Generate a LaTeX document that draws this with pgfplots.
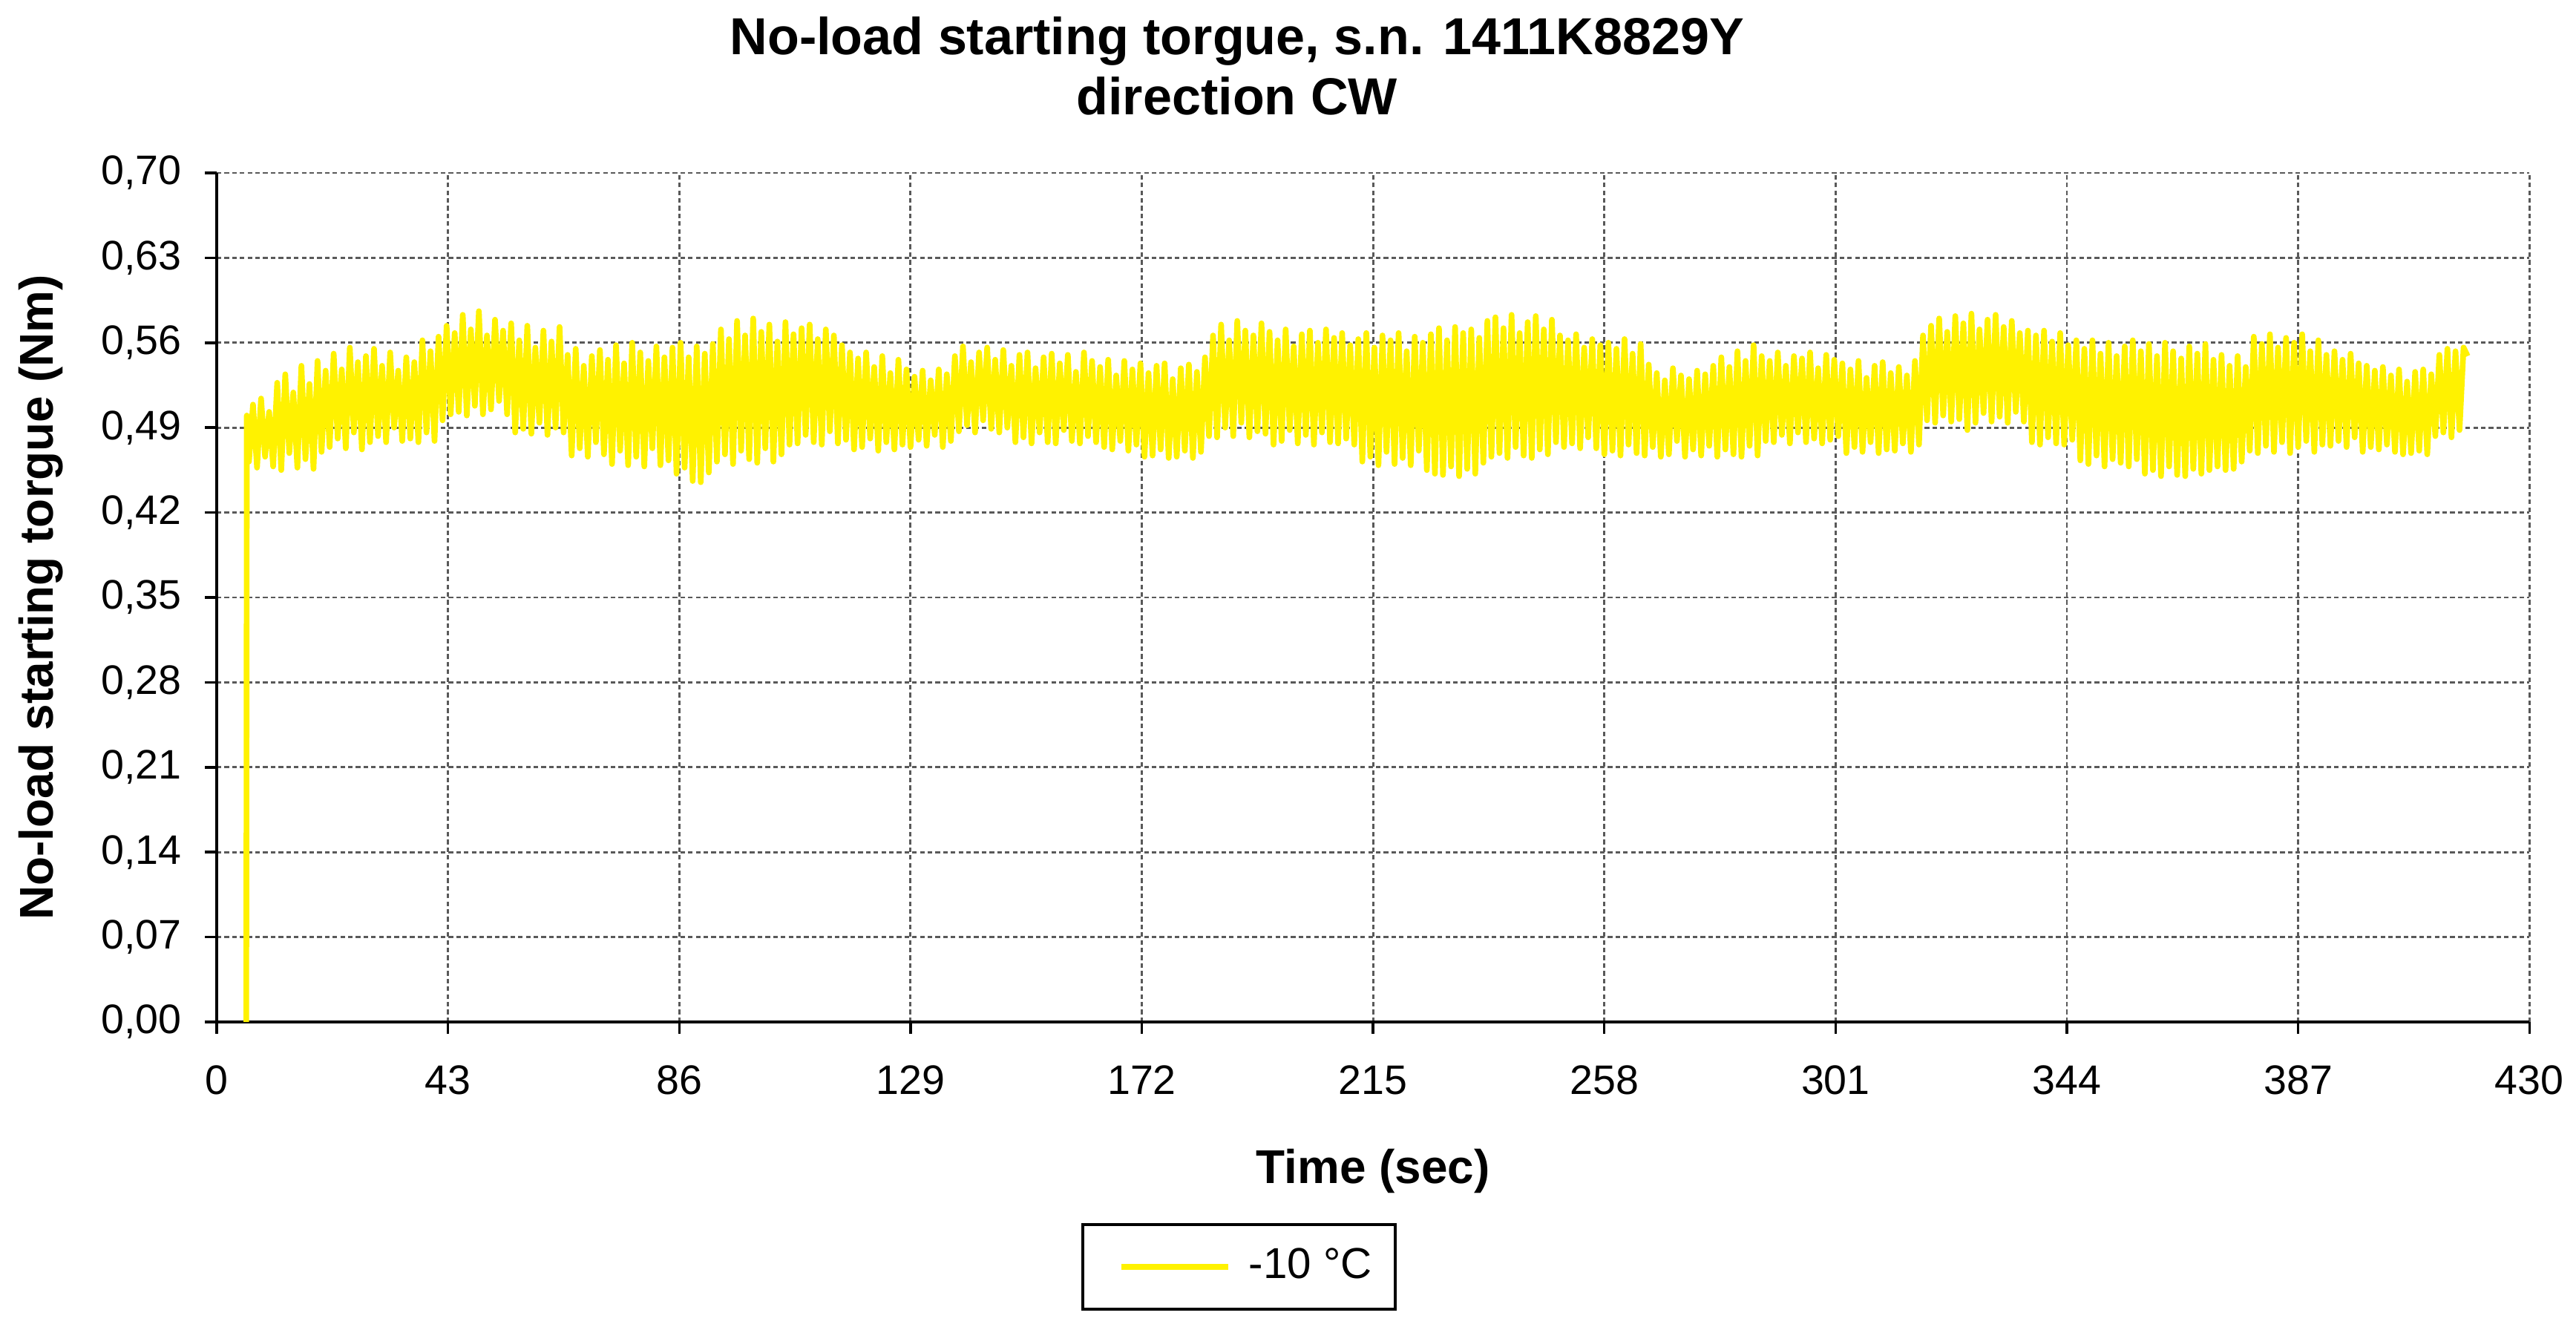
\documentclass[border=0pt]{standalone}
\usepackage{fontspec}
\setmainfont{Liberation Sans}
\usepackage{pgfplots}
\pgfplotsset{compat=1.18}
\begin{document}
\begin{tikzpicture}
\useasboundingbox (0,0) rectangle (500pt,257.42pt);
\begin{axis}[
  at={(42.06pt,59.06pt)}, anchor=south west,
  scale only axis, width=448.9pt, height=164.8pt,
  xmin=0, xmax=430, ymin=0, ymax=0.70,
  axis x line*=bottom, axis y line*=left,
  axis line style={-, black, line width=0.6pt},
  xtick={0,43,86,129,172,215,258,301,344,387,430},
  ytick={0,0.07,0.14,0.21,0.28,0.35,0.42,0.49,0.56,0.63,0.70},
  scaled y ticks=false,
  tick align=outside, major tick length=2.3pt,
  tick style={black, line width=0.5pt},
  grid=major,
  major grid style={black!65, line width=0.4pt, dash pattern=on 0.9pt off 0.6pt},
  /pgf/number format/assume math mode=true,
  ticklabel style={font=\fontsize{8}{9.6}\selectfont},
  yticklabel style={/pgf/number format/fixed, /pgf/number format/fixed zerofill, /pgf/number format/precision=2, /pgf/number format/use comma, xshift=-1pt},
  xticklabel style={yshift=-2.6pt},
  xlabel={Time (sec)},
  xlabel style={font=\fontsize{9.2}{11}\selectfont\bfseries, at={(axis description cs:0.5,-0.19)}, anchor=base},
  ylabel={No-load starting torgue (Nm)},
  ylabel style={font=\fontsize{9.2}{11}\selectfont\bfseries, at={(axis description cs:-0.076,0.5)}, anchor=center},
  legend style={at={(axis description cs:0.442,-0.2885)}, anchor=center, draw=black, line width=0.6pt, font=\fontsize{8.4}{10}\selectfont, inner xsep=2.5pt, inner ysep=2.5pt},
  legend image code/.code={\path (0pt,0pt); \draw[#1] (4.5pt,0pt) -- (25.2pt,0pt);},
]
\addplot[color=yellow, line width=1.1pt, line join=round] coordinates {
(5.5,0)(5.6,0.50)
(6,.462)(6.75,.509)(7.5,.457)(8.25,.514)
(9,.466)(9.75,.503)(10.5,.458)(11.25,.527)
(12,.455)(12.75,.534)(13.5,.469)(14.25,.519)
(15,.457)(15.75,.541)(16.5,.464)(17.25,.526)
(18,.456)(18.75,.545)(19.5,.470)(20.25,.537)
(21,.474)(21.75,.551)(22.5,.481)(23.25,.538)
(24,.473)(24.75,.556)(25.5,.486)(26.25,.544)
(27,.472)(27.75,.549)(28.5,.478)(29.25,.555)
(30,.483)(30.75,.541)(31.5,.478)(32.25,.552)
(33,.490)(33.75,.537)(34.5,.479)(35.25,.548)
(36,.481)(36.75,.544)(37.5,.478)(38.25,.562)
(39,.486)(39.75,.553)(40.5,.479)(41.25,.565)
(42,.496)(42.75,.574)(43.5,.501)(44.25,.568)
(45,.503)(45.75,.583)(46.5,.500)(47.25,.571)
(48,.508)(48.75,.586)(49.5,.501)(50.25,.566)
(51,.505)(51.75,.579)(52.5,.512)(53.25,.570)
(54,.501)(54.75,.576)(55.5,.486)(56.25,.562)
(57,.489)(57.75,.574)(58.5,.485)(59.25,.556)
(60,.494)(60.75,.570)(61.5,.484)(62.25,.561)
(63,.490)(63.75,.573)(64.5,.486)(65.25,.550)
(66,.467)(66.75,.555)(67.5,.473)(68.25,.541)
(69,.466)(69.75,.549)(70.5,.478)(71.25,.554)
(72,.468)(72.75,.546)(73.5,.460)(74.25,.558)
(75,.471)(75.75,.543)(76.5,.459)(77.25,.560)
(78,.466)(78.75,.552)(79.5,.458)(80.25,.545)
(81,.473)(81.75,.557)(82.5,.459)(83.25,.548)
(84,.463)(84.75,.556)(85.5,.452)(86.25,.560)
(87,.457)(87.75,.548)(88.5,.446)(89.25,.557)
(90,.445)(90.75,.551)(91.5,.453)(92.25,.559)
(93,.462)(93.75,.571)(94.5,.468)(95.25,.563)
(96,.460)(96.75,.578)(97.5,.471)(98.25,.566)
(99,.464)(99.75,.580)(100.5,.461)(101.25,.569)
(102,.473)(102.75,.575)(103.5,.462)(104.25,.561)
(105,.468)(105.75,.577)(106.5,.476)(107.25,.567)
(108,.477)(108.75,.572)(109.5,.484)(110.25,.575)
(111,.478)(111.75,.563)(112.5,.476)(113.25,.571)
(114,.487)(114.75,.566)(115.5,.477)(116.25,.558)
(117,.480)(117.75,.552)(118.5,.472)(119.25,.547)
(120,.474)(120.75,.552)(121.5,.481)(122.25,.540)
(123,.471)(123.75,.549)(124.5,.478)(125.25,.535)
(126,.472)(126.75,.546)(127.5,.476)(128.25,.538)
(129,.474)(129.75,.532)(130.5,.480)(131.25,.537)
(132,.475)(132.75,.529)(133.5,.484)(134.25,.538)
(135,.474)(135.75,.534)(136.5,.479)(137.25,.549)
(138,.487)(138.75,.557)(139.5,.492)(140.25,.544)
(141,.486)(141.75,.552)(142.5,.496)(143.25,.556)
(144,.489)(144.75,.546)(145.5,.486)(146.25,.554)
(147,.490)(147.75,.541)(148.5,.478)(149.25,.550)
(150,.482)(150.75,.552)(151.5,.477)(152.25,.539)
(153,.486)(153.75,.548)(154.5,.478)(155.25,.551)
(156,.477)(156.75,.543)(157.5,.488)(158.25,.550)
(159,.479)(159.75,.536)(160.5,.477)(161.25,.552)
(162,.483)(162.75,.545)(163.5,.478)(164.25,.540)
(165,.474)(165.75,.546)(166.5,.472)(167.25,.533)
(168,.479)(168.75,.545)(169.5,.471)(170.25,.538)
(171,.476)(171.75,.543)(172.5,.466)(173.25,.535)
(174,.467)(174.75,.541)(175.5,.472)(176.25,.543)
(177,.465)(177.75,.530)(178.5,.466)(179.25,.539)
(180,.471)(180.75,.542)(181.5,.465)(182.25,.536)
(183,.470)(183.75,.548)(184.5,.483)(185.25,.566)
(186,.482)(186.75,.575)(187.5,.490)(188.25,.562)
(189,.483)(189.75,.578)(190.5,.494)(191.25,.570)
(192,.482)(192.75,.566)(193.5,.487)(194.25,.576)
(195,.485)(195.75,.569)(196.5,.476)(197.25,.562)
(198,.479)(198.75,.571)(199.5,.488)(200.25,.557)
(201,.477)(201.75,.567)(202.5,.484)(203.25,.570)
(204,.476)(204.75,.560)(205.5,.486)(206.25,.571)
(207,.478)(207.75,.564)(208.5,.477)(209.25,.568)
(210,.481)(210.75,.558)(211.5,.476)(212.25,.563)
(213,.462)(213.75,.568)(214.5,.466)(215.25,.556)
(216,.459)(216.75,.566)(217.5,.470)(218.25,.562)
(219,.460)(219.75,.568)(220.5,.465)(221.25,.553)
(222,.459)(222.75,.565)(223.5,.471)(224.25,.560)
(225,.455)(225.75,.567)(226.5,.452)(227.25,.572)
(228,.451)(228.75,.562)(229.5,.458)(230.25,.573)
(231,.450)(231.75,.568)(232.5,.456)(233.25,.571)
(234,.452)(234.75,.564)(235.5,.461)(236.25,.578)
(237,.466)(237.75,.581)(238.5,.469)(239.25,.572)
(240,.465)(240.75,.583)(241.5,.474)(242.25,.568)
(243,.467)(243.75,.577)(244.5,.465)(245.25,.582)
(246,.472)(246.75,.571)(247.5,.468)(248.25,.579)
(249,.478)(249.75,.566)(250.5,.474)(251.25,.562)
(252,.477)(252.75,.567)(253.5,.473)(254.25,.556)
(255,.482)(255.75,.563)(256.5,.473)(257.25,.558)
(258,.468)(258.75,.560)(259.5,.471)(260.25,.555)
(261,.467)(261.75,.563)(262.5,.476)(263.25,.551)
(264,.469)(264.75,.559)(265.5,.467)(266.25,.542)
(267,.474)(267.75,.535)(268.5,.466)(269.25,.529)
(270,.468)(270.75,.539)(271.5,.479)(272.25,.533)
(273,.466)(273.75,.530)(274.5,.472)(275.25,.537)
(276,.467)(276.75,.534)(277.5,.475)(278.25,.541)
(279,.466)(279.75,.548)(280.5,.472)(281.25,.540)
(282,.468)(282.75,.553)(283.5,.466)(284.25,.545)
(285,.475)(285.75,.558)(286.5,.467)(287.25,.549)
(288,.479)(288.75,.545)(289.5,.478)(290.25,.552)
(291,.484)(291.75,.541)(292.5,.477)(293.25,.549)
(294,.486)(294.75,.547)(295.5,.478)(296.25,.552)
(297,.481)(297.75,.539)(298.5,.477)(299.25,.550)
(300,.480)(300.75,.546)(301.5,.483)(302.25,.543)
(303,.469)(303.75,.538)(304.5,.474)(305.25,.545)
(306,.470)(306.75,.531)(307.5,.478)(308.25,.541)
(309,.469)(309.75,.544)(310.5,.472)(311.25,.535)
(312,.471)(312.75,.540)(313.5,.477)(314.25,.533)
(315,.470)(315.75,.545)(316.5,.476)(317.25,.566)
(318,.496)(318.75,.574)(319.5,.494)(320.25,.580)
(321,.500)(321.75,.569)(322.5,.495)(323.25,.582)
(324,.497)(324.75,.576)(325.5,.488)(326.25,.584)
(327,.494)(327.75,.571)(328.5,.502)(329.25,.579)
(330,.495)(330.75,.583)(331.5,.499)(332.25,.573)
(333,.494)(333.75,.578)(334.5,.503)(335.25,.568)
(336,.495)(336.75,.570)(337.5,.478)(338.25,.566)
(339,.476)(339.75,.570)(340.5,.482)(341.25,.561)
(342,.477)(342.75,.568)(343.5,.476)(344.25,.558)
(345,.480)(345.75,.562)(346.5,.463)(347.25,.555)
(348,.460)(348.75,.562)(349.5,.467)(350.25,.551)
(351,.458)(351.75,.560)(352.5,.464)(353.25,.549)
(354,.461)(354.75,.557)(355.5,.458)(356.25,.562)
(357,.464)(357.75,.553)(358.5,.452)(359.25,.559)
(360,.455)(360.75,.549)(361.5,.450)(362.25,.560)
(363,.458)(363.75,.553)(364.5,.451)(365.25,.547)
(366,.450)(366.75,.557)(367.5,.456)(368.25,.551)
(369,.452)(369.75,.559)(370.5,.455)(371.25,.546)
(372,.458)(372.75,.550)(373.5,.455)(374.25,.541)
(375,.456)(375.75,.549)(376.5,.462)(377.25,.540)
(378,.471)(378.75,.565)(379.5,.469)(380.25,.559)
(381,.475)(381.75,.567)(382.5,.470)(383.25,.556)
(384,.478)(384.75,.564)(385.5,.469)(386.25,.560)
(387,.474)(387.75,.567)(388.5,.479)(389.25,.553)
(390,.470)(390.75,.562)(391.5,.476)(392.25,.550)
(393,.475)(393.75,.553)(394.5,.479)(395.25,.546)
(396,.474)(396.75,.551)(397.5,.482)(398.25,.543)
(399,.470)(399.75,.541)(400.5,.474)(401.25,.537)
(402,.472)(402.75,.540)(403.5,.476)(404.25,.533)
(405,.470)(405.75,.538)(406.5,.468)(407.25,.528)
(408,.469)(408.75,.536)(409.5,.471)(410.25,.538)
(411,.468)(411.75,.534)(412.5,.483)(413.25,.550)
(414,.486)(414.75,.555)(415.5,.482)(416.25,.553)
(417,.488)(417.75,.556)(418.5,.549)
};
\addlegendentry{\hspace{1.5pt}-10 °C}
\end{axis}
\node[font=\fontsize{10.1}{12}\selectfont\bfseries, anchor=base] at (240.1pt,246.9pt) {No-load starting torgue, s.n. 1411K8829Y};
\node[font=\fontsize{10.1}{12}\selectfont\bfseries, anchor=base] at (240.1pt,235.1pt) {direction CW};
\end{tikzpicture}
\end{document}
